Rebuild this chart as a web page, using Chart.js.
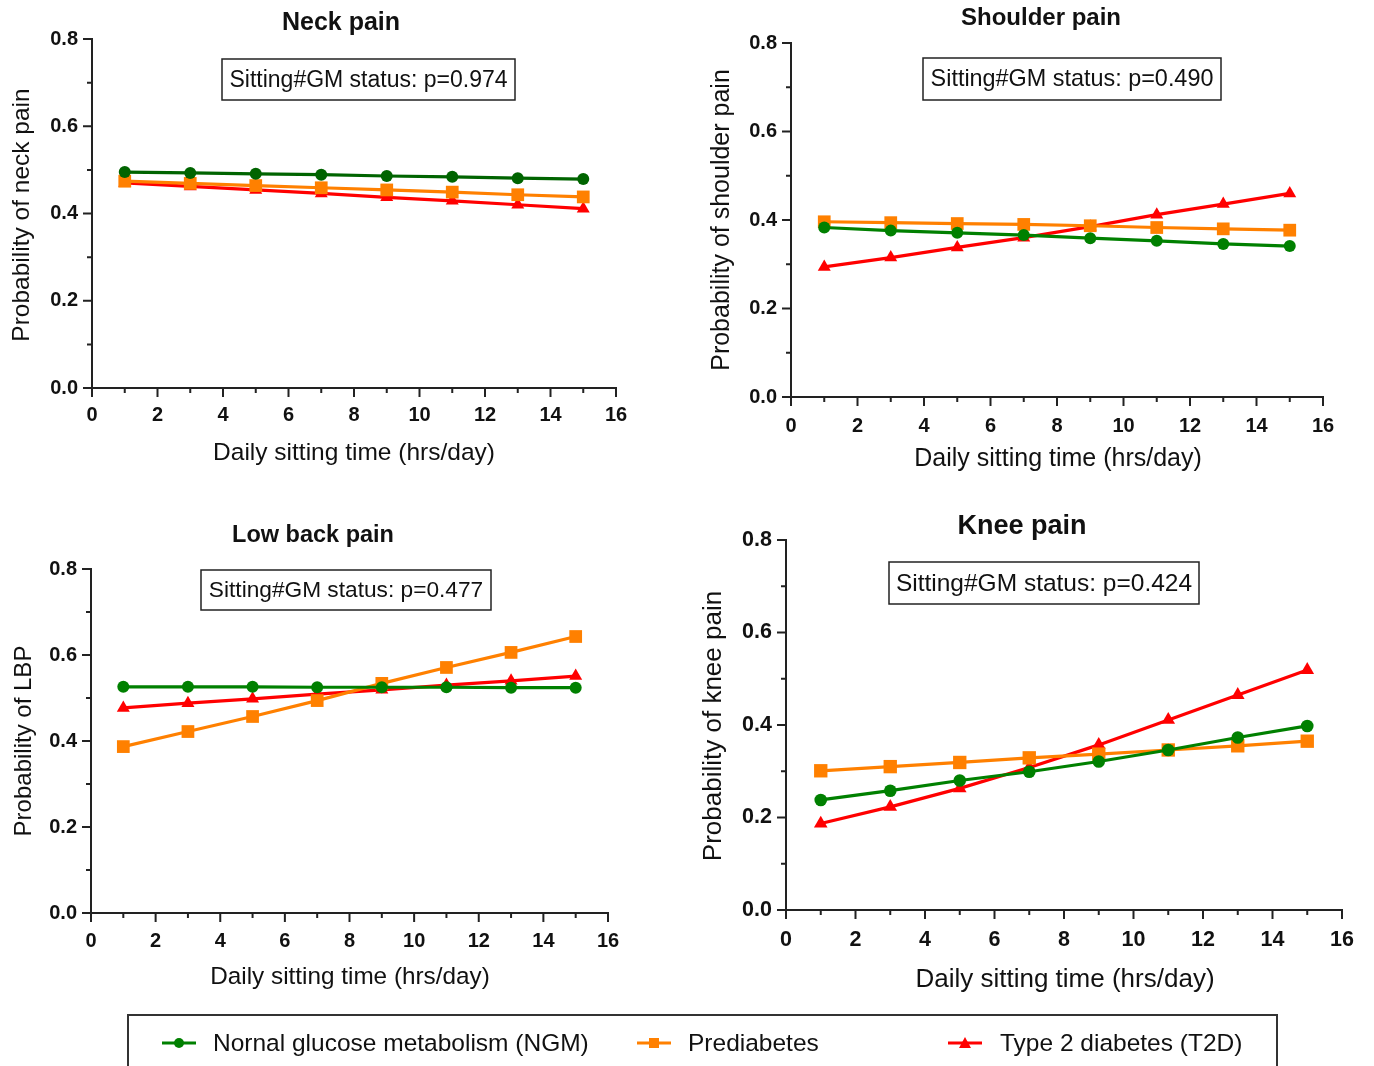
<!DOCTYPE html>
<html>
<head>
<meta charset="utf-8">
<script src="https://cdn.jsdelivr.net/npm/chart.js@4.4.0/dist/chart.umd.min.js"></script>
<style>
  body { margin: 0; background: #fff; width: 1374px; height: 1066px; overflow: hidden; position: relative;
         font-family: "Liberation Sans", Arial, sans-serif; color: #111; }
  canvas { position: absolute; left: 0; top: 0; }
  #legend { position: absolute; left: 127px; top: 1014px; width: 1151px; height: 70px;
            border: 2px solid #333; box-sizing: border-box; }
  .item { position: absolute; top: 12px; font-size: 24.5px; line-height: 30px; white-space: nowrap; }
  .item svg { position: absolute; top: 8px; }
</style>
</head>
<body>
<canvas id="neck" width="1374" height="1066"></canvas>
<canvas id="shoulder" width="1374" height="1066"></canvas>
<canvas id="lbp" width="1374" height="1066"></canvas>
<canvas id="knee" width="1374" height="1066"></canvas>
<div id="legend"></div>

<script>
// data
const hours = [1, 3, 5, 7, 9, 11, 13, 15];
const xTicks = [0, 2, 4, 6, 8, 10, 12, 14, 16];
const yTicks = [0, 0.2, 0.4, 0.6, 0.8];
const seriesNames = ["Nornal glucose metabolism (NGM)", "Prediabetes", "Type 2 diabetes (T2D)"];

const neckNGM = [0.495, 0.493, 0.491, 0.489, 0.486, 0.484, 0.481, 0.479];
const neckPre = [0.474, 0.469, 0.464, 0.459, 0.454, 0.449, 0.443, 0.438];
const neckT2D = [0.470, 0.462, 0.454, 0.446, 0.437, 0.429, 0.420, 0.411];

const shoulderNGM = [0.383, 0.376, 0.371, 0.366, 0.359, 0.353, 0.346, 0.341];
const shoulderPre = [0.396, 0.394, 0.392, 0.390, 0.387, 0.383, 0.380, 0.377];
const shoulderT2D = [0.294, 0.315, 0.338, 0.360, 0.385, 0.412, 0.436, 0.460];

const lbpNGM = [0.526, 0.526, 0.526, 0.525, 0.525, 0.525, 0.524, 0.524];
const lbpPre = [0.387, 0.422, 0.457, 0.494, 0.534, 0.571, 0.606, 0.643];
const lbpT2D = [0.477, 0.488, 0.498, 0.509, 0.519, 0.530, 0.540, 0.551];

const kneeNGM = [0.238, 0.258, 0.280, 0.299, 0.321, 0.346, 0.373, 0.398];
const kneePre = [0.301, 0.310, 0.319, 0.329, 0.337, 0.346, 0.355, 0.365];
const kneeT2D = [0.187, 0.223, 0.263, 0.308, 0.357, 0.411, 0.465, 0.519];

const panelTitles = ["Neck pain", "Shoulder pain", "Low back pain", "Knee pain"];
const yTitles = ["Probability of neck pain", "Probability of shoulder pain", "Probability of LBP", "Probability of knee pain"];
const pValues = ["0.974", "0.490", "0.477", "0.424"];

const colors = ["#008000", "#ff8000", "#ff0000"];
const pointStyles = ["circle", "rect", "triangle"];
const pointRadii = [6, 9, 7.5];

// page layout of each panel (plot box, text positions, font sizes)
const layouts = [
  { id: "neck", l: 92, t: 39, r: 616, b: 388, green: "#006400",
    title: [341, 23, 25], box: [222, 59, 515, 100, 23], xt: [354, 453, 24.5], yt: [22, 215, 24.5],
    tickFont: 20, xLabOff: 27, yLabOff: 14 },
  { id: "shoulder", l: 791, t: 43, r: 1323, b: 397, green: "#008000",
    title: [1041, 18, 24], box: [923, 58, 1221, 100, 23.4], xt: [1058, 459, 25], yt: [722, 220, 25],
    tickFont: 20, xLabOff: 29, yLabOff: 14 },
  { id: "lbp", l: 91, t: 569, r: 608, b: 913, green: "#008000",
    title: [313, 536, 23.5], box: [201, 570, 491, 610, 22.7], xt: [350, 977, 24.3], yt: [24, 741, 24],
    tickFont: 20, xLabOff: 28, yLabOff: 14 },
  { id: "knee", l: 786, t: 540, r: 1342, b: 910, green: "#008000",
    title: [1022, 527, 27], box: [889, 562, 1199, 604, 24.5], xt: [1065, 980, 26], yt: [714, 726, 26],
    tickFont: 21.5, xLabOff: 30, yLabOff: 14 }
];

const panelData = [
  [neckNGM, neckPre, neckT2D],
  [shoulderNGM, shoulderPre, shoulderT2D],
  [lbpNGM, lbpPre, lbpT2D],
  [kneeNGM, kneePre, kneeT2D]
];

const FONT = '"Liberation Sans", Arial, sans-serif';

// draws axis lines, ticks, labels and the panel texts
const axesPlugin = {
  id: "axesPlugin",
  beforeDatasetsDraw(chart, args, opts) {
    const L = opts.layout, i = opts.index;
    const ctx = chart.ctx;
    const xs = chart.scales.x, ys = chart.scales.y;
    const left = chart.chartArea.left, bottom = chart.chartArea.bottom;
    ctx.save();
    ctx.strokeStyle = "#222";
    ctx.fillStyle = "#111";
    ctx.lineWidth = 2;
    ctx.beginPath();
    ctx.moveTo(left, ys.getPixelForValue(yTicks[yTicks.length - 1]) - 1);
    ctx.lineTo(left, bottom);
    ctx.lineTo(xs.getPixelForValue(xTicks[xTicks.length - 1]) + 1, bottom);
    ctx.stroke();

    // major and minor ticks
    ctx.beginPath();
    yTicks.forEach((v, k) => {
      const y = ys.getPixelForValue(v);
      ctx.moveTo(left - 9, y); ctx.lineTo(left, y);
      if (k < yTicks.length - 1) {
        const ym = ys.getPixelForValue((v + yTicks[k + 1]) / 2);
        ctx.moveTo(left - 5, ym); ctx.lineTo(left, ym);
      }
    });
    xTicks.forEach((v, k) => {
      const x = xs.getPixelForValue(v);
      ctx.moveTo(x, bottom); ctx.lineTo(x, bottom + 9);
      if (k < xTicks.length - 1) {
        const xm = xs.getPixelForValue((v + xTicks[k + 1]) / 2);
        ctx.moveTo(xm, bottom); ctx.lineTo(xm, bottom + 5);
      }
    });
    ctx.stroke();

    ctx.font = "bold " + L.tickFont + "px " + FONT;
    ctx.textAlign = "right"; ctx.textBaseline = "middle";
    yTicks.forEach(v => ctx.fillText(v.toFixed(1), left - L.yLabOff, ys.getPixelForValue(v)));
    ctx.textAlign = "center";
    xTicks.forEach(v => ctx.fillText(String(v), xs.getPixelForValue(v), bottom + L.xLabOff));

    // titles
    ctx.font = "bold " + L.title[2] + "px " + FONT;
    ctx.fillText(panelTitles[i], L.title[0], L.title[1]);
    ctx.font = L.xt[2] + "px " + FONT;
    ctx.fillText("Daily sitting time (hrs/day)", L.xt[0], L.xt[1]);
    ctx.save();
    ctx.translate(L.yt[0], L.yt[1]);
    ctx.rotate(-Math.PI / 2);
    ctx.font = L.yt[2] + "px " + FONT;
    ctx.fillText(yTitles[i], 0, 0);
    ctx.restore();

    // interaction p-value box
    const bx = L.box;
    ctx.lineWidth = 1.5;
    ctx.strokeRect(bx[0], bx[1], bx[2] - bx[0], bx[3] - bx[1]);
    ctx.font = bx[4] + "px " + FONT;
    ctx.fillText("Sitting#GM status: p=" + pValues[i], (bx[0] + bx[2]) / 2, (bx[1] + bx[3]) / 2 + 1);
    ctx.restore();
  }
};

layouts.forEach((L, i) => {
  const lineColors = [L.green, colors[1], colors[2]];
  new Chart(document.getElementById(L.id), {
    type: "line",
    data: {
      datasets: panelData[i].map((vals, k) => ({
        label: seriesNames[k],
        data: hours.map((h, j) => ({ x: h, y: vals[j] })),
        borderColor: lineColors[k],
        backgroundColor: lineColors[k],
        borderWidth: 3.2,
        pointStyle: pointStyles[k],
        pointRadius: pointRadii[k] * (L.id === "knee" ? 1.05 : 1),
        pointBorderWidth: 0,
        tension: 0,
        clip: false
      }))
    },
    options: {
      responsive: false,
      animation: false,
      events: [],
      layout: { padding: { left: L.l, top: L.t, right: 1374 - L.r, bottom: 1066 - L.b } },
      scales: {
        x: { type: "linear", min: 0, max: 16, display: false },
        y: { type: "linear", min: 0, max: 0.8, display: false }
      },
      plugins: {
        legend: { display: false },
        tooltip: { enabled: false },
        axesPlugin: { layout: L, index: i }
      }
    },
    plugins: [axesPlugin]
  });
});

// legend
const legendPos = [[160, 211], [635, 686], [946, 998]];
const legendEl = document.getElementById("legend");
seriesNames.forEach((name, k) => {
  const mk = k === 0 ? '<circle cx="17" cy="7" r="5" fill="' + colors[0] + '"/>'
           : k === 1 ? '<rect x="12" y="2" width="10" height="10" fill="' + colors[1] + '"/>'
           : '<polygon points="17,1 23,12 11,12" fill="' + colors[2] + '"/>';
  const div = document.createElement("div");
  div.className = "item";
  div.style.left = (legendPos[k][1] - 127) + "px";
  div.innerHTML = '<svg width="34" height="14" style="left:' + (legendPos[k][0] - legendPos[k][1]) + 'px">' +
    '<line x1="0" y1="7" x2="34" y2="7" stroke="' + colors[k] + '" stroke-width="3"/>' + mk + '</svg>' + name;
  legendEl.appendChild(div);
});
</script>
</body>
</html>
